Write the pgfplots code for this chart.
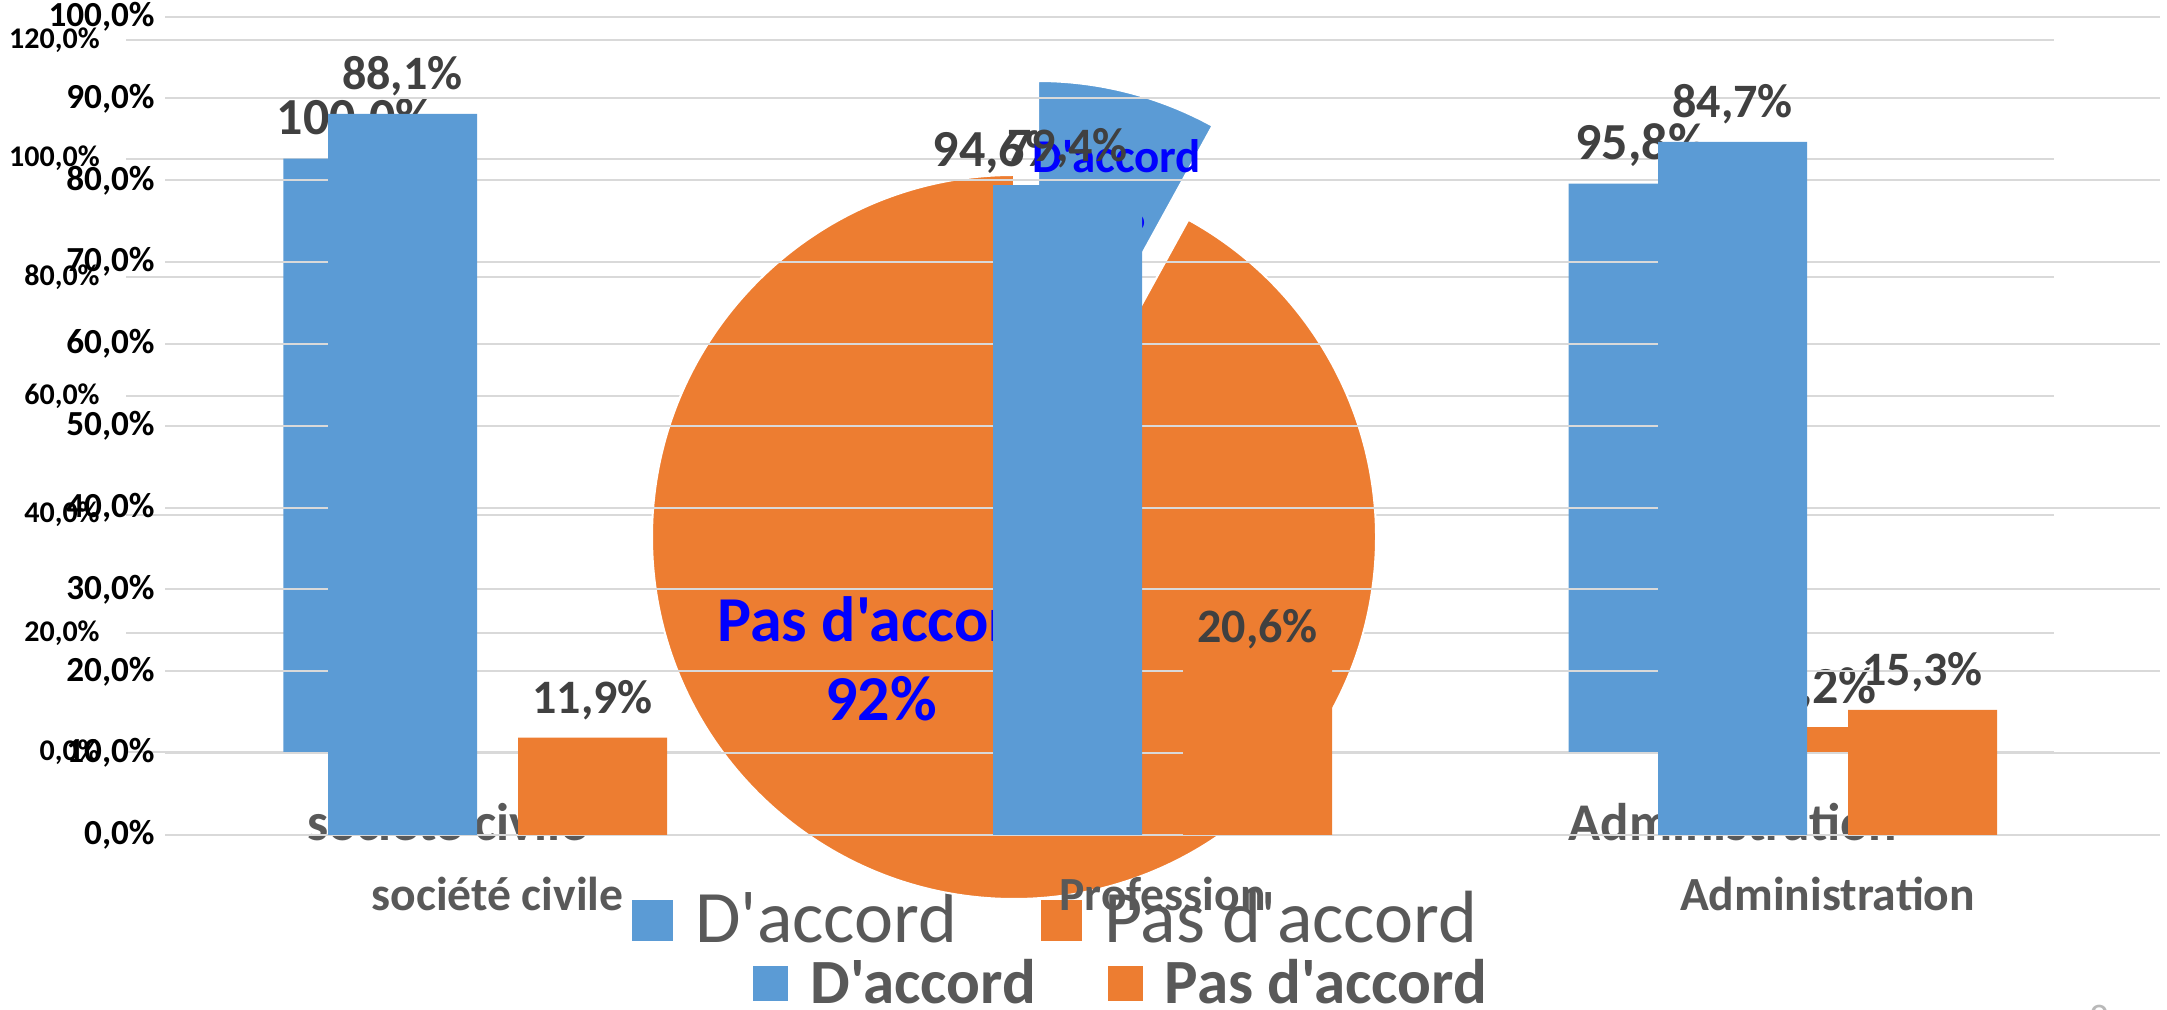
\documentclass[border=0pt]{standalone}
\usepackage{fontspec}
\setmainfont{Carlito}[Ligatures=TeXOff]
\usepackage{pgfplots}
\pgfplotsset{compat=1.18}
\definecolor{cblue}{HTML}{5B9BD5}
\definecolor{corange}{HTML}{ED7D31}
\definecolor{cgrid}{HTML}{D9D9D9}
\definecolor{clab}{HTML}{404040}
\definecolor{caxis}{HTML}{595959}
\definecolor{pieblue}{HTML}{0000FF}
\newcommand\pct[1]{\pgfmathprintnumber[assume math mode=true,fixed,fixed zerofill,precision=1,use comma]{#1}\%}
\pgfplotsset{
  sqA/.style={legend image code/.code={\fill[##1,draw=none] (0pt,-11.25pt) rectangle (20.5pt,9.25pt);}},
  sqB/.style={legend image code/.code={\fill[##1,draw=none] (0pt,-9pt) rectangle (17.5pt,8.5pt);}},
}
\begin{document}
\begin{tikzpicture}
\useasboundingbox (0pt,0pt) rectangle (1083.5pt,505pt);
% ---------- back chart (A) ----------
\begin{axis}[
  at={(63pt,129pt)}, anchor=south west, scale only axis,
  width=964pt, height=356pt,
  xmin=-0.5, xmax=2.5, ymin=0, ymax=120,
  xtick={0,1,2}, xticklabels={société civile,Profession,Administration},
  ytick={0,20,...,120}, yticklabel={\pct{\tick}},
  ymajorgrids, grid style={cgrid, line width=1pt},
  axis line style={draw=none}, major tick length=0pt,
  yticklabel style={anchor=east, inner sep=0pt, xshift=-13pt, font=\bfseries\fontsize{15}{18}\selectfont, text=black},
  xticklabel style={anchor=base, inner sep=0pt, yshift=-44.5pt, font=\bfseries\fontsize{26.5}{30}\selectfont, text=caxis},
  clip=false,
  legend cell align=left,
  legend style={at={(0.2624,-0.2332)}, anchor=west, draw=none, fill=none, legend columns=2,
    font=\fontsize{37}{40}\selectfont, text=caxis, inner sep=0pt,
    /tikz/every odd column/.append style={column sep=9pt},
    /tikz/every even column/.append style={column sep=40pt}},
]
\addplot[ybar, bar width=72pt, bar shift=-46pt, fill=cblue, draw=none, sqA,
  point meta=y, nodes near coords={\pct{\pgfplotspointmeta}},
  nodes near coords style={anchor=base, inner sep=0pt, xshift=-46pt, yshift=12pt, font=\bfseries\fontsize{26}{30}\selectfont, text=clab}]
  coordinates {(0,100.0) (1,94.6) (2,95.8)};
\addlegendentry{D'accord}
\addplot[ybar, bar width=72pt, bar shift=46pt, fill=corange, draw=none, sqA,
  point meta=y, nodes near coords={\pct{\pgfplotspointmeta}},
  nodes near coords style={anchor=base, inner sep=0pt, xshift=46pt, yshift=12pt, font=\bfseries\fontsize{26}{30}\selectfont, text=clab}]
  coordinates {(1,5.4) (2,4.2)};
\addlegendentry{Pas d'accord}
\end{axis}
% ---------- pie ----------
\begin{axis}[
  at={(507pt,236.5pt)}, anchor=center, scale only axis,
  width=362pt, height=362pt, xmin=-1, xmax=1, ymin=-1, ymax=1,
  hide axis, clip=false]
\fill[corange, draw=white, line width=1pt] (axis cs:0,0) -- ++(90:181pt) arc[start angle=90, end angle=421.2, radius=181pt] -- cycle;
\fill[cblue, draw=white, line width=1pt] (axis cs:0.0666,0.2596) -- ++(61.2:181pt) arc[start angle=61.2, end angle=90, radius=181pt] -- cycle;
\node[align=center, text=pieblue, font=\bfseries\fontsize{32}{39.5}\selectfont] at (axis cs:-0.367,-0.337) {Pas d'accord\\92\%};
\node[align=center, text=pieblue, font=\bfseries\fontsize{23.5}{29}\selectfont] at (axis cs:0.2845,0.972) {D'accord\\8\%};
\end{axis}
% ---------- front chart (B) ----------
\begin{axis}[
  at={(82.5pt,87.5pt)}, anchor=south west, scale only axis,
  width=997.5pt, height=409.2pt,
  xmin=-0.5, xmax=2.5, ymin=0, ymax=100,
  xtick={0,1,2}, xticklabels={société civile,Profession,Administration},
  ytick={0,10,...,100}, yticklabel={\pct{\tick}},
  ymajorgrids, grid style={cgrid, line width=1pt},
  axis line style={draw=none}, major tick length=0pt,
  yticklabel style={anchor=east, inner sep=0pt, xshift=-5pt, font=\bfseries\fontsize{17.6}{20}\selectfont, text=black},
  xticklabel style={anchor=base, inner sep=0pt, yshift=-38pt, font=\bfseries\fontsize{23.8}{28}\selectfont, text=caxis},
  clip=false,
  legend cell align=left,
  legend style={at={(0.2947,-0.1808)}, anchor=west, draw=none, fill=none, legend columns=2,
    font=\bfseries\fontsize{31.5}{34}\selectfont, text=caxis, inner sep=0pt,
    /tikz/every odd column/.append style={column sep=9pt},
    /tikz/every even column/.append style={column sep=34pt}},
]
\addplot[ybar, bar width=74.5pt, bar shift=-47.5pt, fill=cblue, draw=none, sqB,
  point meta=y, nodes near coords={\pct{\pgfplotspointmeta}},
  nodes near coords style={anchor=base, inner sep=0pt, xshift=-47.5pt, yshift=12pt, font=\bfseries\fontsize{24}{28}\selectfont, text=clab}]
  coordinates {(0,88.1) (1,79.4) (2,84.7)};
\addlegendentry{D'accord}
\addplot[ybar, bar width=74.5pt, bar shift=47.5pt, fill=corange, draw=none, sqB,
  point meta=y, nodes near coords={\pct{\pgfplotspointmeta}},
  nodes near coords style={anchor=base, inner sep=0pt, xshift=47.5pt, yshift=12pt, font=\bfseries\fontsize{24}{28}\selectfont, text=clab}]
  coordinates {(0,11.9) (1,20.6) (2,15.3)};
\addlegendentry{Pas d'accord}
\end{axis}
\node[anchor=north, text=gray!55, font=\fontsize{20}{24}\selectfont] at (1050pt,6pt) {8};
\end{tikzpicture}
\end{document}
